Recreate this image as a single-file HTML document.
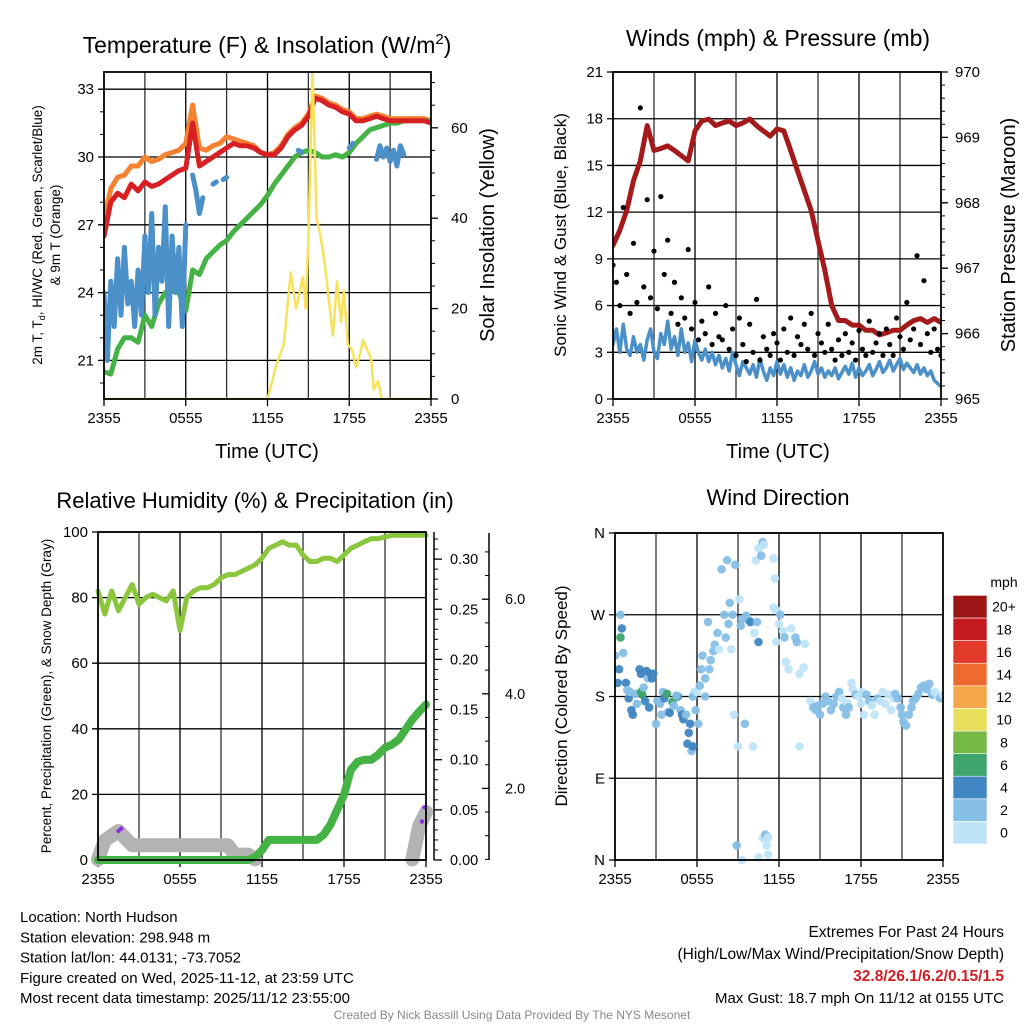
<!DOCTYPE html>
<html><head><meta charset="utf-8"><style>
html,body{margin:0;padding:0;background:#fff;}
svg{display:block;font-family:"Liberation Sans",Arial,sans-serif;}
</style></head><body>
<svg id="root" width="1024" height="1024" viewBox="0 0 1024 1024"></svg>
<script>
// ---------- DATA ----------
const xTickLabels = ["2355","0555","1155","1755","2355"];
const xTickHours = [0,6,12,18,24];
// Panel 1 (0.5 h steps)
const tHalf = [0,0.5,1,1.5,2,2.5,3,3.5,4,4.5,5,5.5,6,6.5,7,7.5,8,8.5,9,9.5,10,10.5,11,11.5,12,12.5,13,13.5,14,14.5,15,15.5,16,16.5,17,17.5,18,18.5,19,19.5,20,20.5,21,21.5,22,22.5,23,23.5,24];
const tempRed = [26.5,28.0,28.4,28.2,28.8,28.5,28.9,28.7,28.8,29.0,29.2,29.4,29.5,31.5,29.6,29.8,30.0,30.2,30.4,30.6,30.5,30.5,30.4,30.2,30.1,30.1,30.4,30.9,31.2,31.4,31.8,32.6,32.5,32.3,32.2,32.0,31.9,31.6,31.6,31.7,31.8,31.7,31.6,31.6,31.6,31.6,31.6,31.6,31.5];
const tempOrange = [27.2,28.6,29.1,29.2,29.6,29.6,30.0,29.8,29.9,30.1,30.2,30.3,30.6,32.3,30.4,30.3,30.5,30.6,30.9,30.8,30.7,30.6,30.5,30.2,30.1,30.2,30.5,31.0,31.3,31.5,31.9,32.7,32.6,32.4,32.3,32.1,32.0,31.7,31.7,31.8,31.9,31.8,31.7,31.7,31.7,31.7,31.7,31.7,31.6];
const dewGreen = [20.5,20.4,21.5,22.0,22.0,21.8,23.0,22.5,23.5,24.0,24.2,24.0,23.2,25.0,24.8,25.5,25.8,26.1,26.3,26.7,27.0,27.3,27.6,27.9,28.3,28.8,29.2,29.6,30.0,30.2,30.3,30.2,30.0,30.0,30.1,30.0,30.2,30.6,30.9,31.2,31.3,31.4,31.5,31.5,31.6,31.6,31.6,31.6,31.6];
// wind chill (0.25 h steps, null = missing)
const tQuarter = Array.from({length:97},(_,i)=>i*0.25);
const windChill = [
 24.0,21.0,24.5,22.5,25.5,23.0,26.0,23.5,24.5,22.5,25.0,23.0,26.5,24.0,27.5,23.0,26.0,24.5,27.8,22.5,26.5,24.0,26.0,22.5,27.0,
 null,29.2,28.5,27.5,28.2,null,null,28.8,28.9,null,29.0,29.1,
 null,null,null,null,null,null,null,null,null,null,null,null,null,null,null,null,null,null,null,null,
 30.3,30.2,null,
 null,null,null,null,null,null,null,null,null,null,null,null,
 30.4,30.6,
 null,null,null,null,null,null,
 29.9,30.5,30.0,30.4,29.8,30.3,29.6,30.5,30.1,
 null,null,null,null,null,null,null,null];
const tSolar = [0,12,12.7,13.2,13.7,14.1,14.6,14.8,15.0,15.3,15.6,15.9,16.2,16.5,16.8,17.1,17.4,17.6,17.9,18.2,18.5,18.8,19.0,19.3,19.6,19.8,20.1,20.4,24];
const solar = [0,0,8,12,28,20,27,20,35,73,40,36,30,22,14,26,17,24,12,11,7,10,13,11,9,2,4,0,0];
// Panel 2
const pressure = [967.35,967.58,967.88,968.34,968.64,969.18,968.80,968.83,968.87,968.80,968.72,968.64,969.10,969.25,969.28,969.18,969.22,969.25,969.18,969.22,969.28,969.18,969.10,969.02,969.13,969.10,968.80,968.49,968.19,967.88,967.42,966.97,966.43,966.20,966.20,966.13,966.13,966.05,966.05,965.98,966.01,966.05,966.05,966.13,966.20,966.23,966.17,966.23,966.17];
const windSpeed = [3.5,4.5,3.0,4.8,3.2,2.8,4.0,3.0,3.5,2.5,3.8,4.5,3.0,2.6,4.2,3.5,
 5.0,3.2,4.0,2.8,4.5,3.0,3.6,2.4,3.8,3.0,2.5,3.2,2.4,3.0,2.2,2.8,
 2.0,2.6,1.8,3.0,2.2,1.5,2.4,2.0,1.6,2.2,1.4,2.6,1.8,1.2,2.0,1.5,
 2.4,1.6,2.2,1.4,2.0,1.2,1.8,1.5,2.2,1.4,1.8,2.4,1.6,2.0,1.4,1.8,
 1.5,2.0,1.3,1.7,2.1,1.6,2.3,1.4,2.0,1.5,1.8,2.2,1.5,1.9,2.4,1.7,
 2.0,2.5,1.8,2.2,2.6,1.9,2.3,2.0,1.7,2.2,1.6,2.0,1.5,1.8,1.2,1.0,0.8];
const windGust = [8.6,7.5,6.0,12.3,8.0,5.5,10.0,6.2,18.7,7.2,12.8,6.5,9.5,5.8,13.0,8.0,
 10.2,5.5,7.5,4.8,6.5,5.2,9.6,4.5,6.2,3.8,5.0,4.2,7.2,3.5,5.5,4.0,
 3.8,6.0,3.2,4.5,2.8,5.2,3.5,2.4,4.8,3.0,6.4,2.5,4.0,3.2,2.8,4.2,
 3.6,2.5,4.5,3.0,5.2,2.8,4.0,3.5,4.8,3.2,5.5,2.8,4.2,3.6,3.0,4.8,
 3.2,2.5,3.8,2.8,4.2,3.0,3.6,2.5,4.4,3.2,2.8,5.0,3.0,3.6,4.2,2.8,
 4.5,3.5,2.8,5.2,4.0,3.2,6.2,3.8,4.5,9.2,3.5,7.6,4.2,3.0,4.5,3.2,2.8];
// Panel 3
const relHum = [82,75,82,76,80,84,78,80,81,80,79,82,70,80,82,83,83,84,86,87,87,88,89,90,92,95,96,97,96,96,93,91,91,92,92,91,93,95,96,97,98,98,98.5,99,99,99,99,99,99];
const precip = [0,0,0,0,0,0,0,0,0,0,0,0,0,0,0,0,0,0,0,0,0,0,0,0.003,0.01,0.02,0.02,0.02,0.02,0.02,0.02,0.02,0.02,0.025,0.035,0.05,0.065,0.09,0.098,0.10,0.10,0.105,0.112,0.115,0.12,0.13,0.14,0.148,0.155];
const snowDepth = [0.5,0.9,1.0,1.1,0.95,0.8,0.8,0.8,0.8,0.8,0.8,0.8,0.8,0.8,0.8,0.8,0.8,0.8,0.8,0.8,0.6,0.6,0.6,0.5,null,null,null,null,null,null,null,null,null,null,null,null,null,null,null,null,null,null,null,null,null,null,0.5,1.2,1.5];
// Panel 4
const dirTime = [0.0,0.2,0.3,0.4,0.5,0.4,0.6,0.8,0.9,1.0,1.2,1.1,1.3,1.5,1.6,1.8,1.9,1.9,2.0,2.1,2.2,2.3,2.4,2.5,2.6,2.7,2.8,3.0,3.1,3.3,3.4,3.5,3.6,3.8,3.9,4.0,4.2,4.3,4.6,4.5,4.8,4.9,5.0,5.2,5.3,5.4,5.5,5.6,5.7,5.8,5.9,5.7,6.0,6.1,6.2,6.3,6.4,6.6,6.6,6.8,6.9,7.0,7.2,7.3,7.5,7.6,7.8,8.0,8.1,8.2,8.3,8.4,8.5,8.6,8.7,8.8,8.9,9.0,9.1,9.2,9.3,9.3,9.5,9.6,9.8,9.9,10.1,10.2,10.4,10.5,10.3,10.5,10.8,10.9,10.7,10.5,10.8,11.0,11.2,11.1,11.2,11.6,11.7,11.6,11.8,12.0,11.8,12.1,12.3,12.4,12.5,12.7,12.9,13.2,13.3,13.5,13.5,13.8,13.9,
 14.3,14.5,14.7,14.8,15.0,15.2,15.4,15.6,15.8,16.0,16.2,16.4,16.6,16.7,16.9,17.0,17.1,17.3,17.4,17.6,17.8,18.0,18.1,18.2,18.4,18.6,18.8,19.0,19.2,19.4,19.6,19.8,20.0,20.2,20.4,20.5,20.7,20.9,21.0,21.1,21.3,21.5,21.7,21.8,22.0,22.2,22.4,22.6,22.8,23.0,23.2,23.4,23.6,23.8,24.0];
const dirDeg = [225,195,210,270,255,245,228,195,187,178,165,185,160,183,172,210,205,185,182,190,175,208,200,168,205,200,205,150,175,172,160,185,178,183,163,162,174,170,180,181,165,160,155,160,128,140,150,120,125,185,165,180,185,150,192,210,225,180,200,262,210,220,230,237,250,232,320,270,245,330,260,283,232,270,160,325,16,125,287,258,265,0,150,269,264,262,125,250,262,240,330,343,350,347,335,3,24,28,25,16,6,332,310,278,275,260,240,270,252,245,218,210,255,245,240,205,125,212,238,
 175,168,165,170,160,172,180,175,165,172,180,185,178,168,160,173,168,195,188,182,180,172,185,160,182,175,170,160,178,175,185,172,182,165,178,183,178,168,160,152,148,160,168,175,178,183,190,192,188,194,182,185,180,178,182];
const dirSpeed = [3,4.5,4.5,3,4.5,6.5,3,4.5,3,4.5,4.5,3,4.5,3,3,4.5,4.5,6.5,6.5,3,4.5,4.5,3,4.5,4.5,4.5,4.5,3,3,3,3,3,4.5,6.5,3,4.5,6.5,3,4.5,3,3,4.5,4.5,3,4.5,4.5,4.5,3,4.5,1.5,3,3,1.5,3,3,3,3,3,3,3,3,3,3,3,3,1.5,3,3,3,3,3,3,1.5,3,1.5,3,3,1.5,1.5,3,3,1.5,3,3,3,4.5,1.5,1.5,3,4.5,1.5,1.5,3,1.5,3,1.5,1.5,3,1.5,1.5,1.5,1.5,1.5,1.5,1.5,1.5,1.5,3,1.5,3,1.5,1.5,1.5,3,3,1.5,1.5,1.5,1.5,
 1.5,3,3,3,3,3,3,3,3,3,3,3,1.5,3,3,1.5,3,1.5,1.5,3,1.5,1.5,1.5,1.5,3,3,1.5,1.5,3,1.5,1.5,1.5,1.5,1.5,1.5,3,3,3,3,3,3,3,3,3,3,3,3,3,3,3,3,1.5,1.5,3,1.5];
const cbLabels = ["0","2","4","6","8","10","12","14","16","18","20+"];
const cbColors = ["#bfe4f7","#86bfe6","#3f86c2","#3fa46c","#74b944","#e7df5a","#f6a646","#ee6a2e","#e03b2a","#c51b20","#9b1515"];

// ---------- HELPERS ----------
const NS="http://www.w3.org/2000/svg";
const root=document.getElementById('root');
function mk(tag,at,parent){const e=document.createElementNS(NS,tag);for(const k in at)e.setAttribute(k,at[k]);(parent||root).appendChild(e);return e;}
function txt(s,at,parent){const e=mk('text',at,parent);e.textContent=s;return e;}
function linePath(xs,vals,fy){let d="",pen=false;for(let i=0;i<xs.length;i++){if(vals[i]==null){pen=false;continue;}const y=fy(vals[i]);d+=(pen?"L":"M")+xs[i].toFixed(1)+" "+y.toFixed(1);pen=true;}return d;}
function makeX(x0,x1){return t=>x0+t/24*(x1-x0);}

function frame(g,x0,x1,y0,y1,yTicks,yFn,labels){
  for(let h=3;h<24;h+=3){const xx=makeX(x0,x1)(h);
    const l=mk('line',{x1:xx,x2:xx,y1:y0,y2:y1,stroke:(h%6==0?'#000':'#333'),'stroke-width':1.3},g);
    
    }
  yTicks.forEach((v,i)=>{const yy=yFn(v);
    const l=mk('line',{x1:x0-6,x2:x1,y1:yy,y2:yy,stroke:'#000','stroke-width':1.3},g);
    
    
    const t=txt(labels[i],{x:x0-10,y:yy+5,'text-anchor':'end','font-size':15},g);
    
    });
  xTickHours.forEach((h,i)=>{const xx=makeX(x0,x1)(h);
    const l=mk('line',{x1:xx,x2:xx,y1:y1,y2:y1+7,stroke:'#000','stroke-width':1.3},g);
    
    
    const t=txt(xTickLabels[i],{x:xx,y:y1+24,'text-anchor':'middle','font-size':15},g);
    
    });
}
function box(g,x0,x1,y0,y1){const r=mk('rect',{x:x0,y:y0,width:x1-x0,height:y1-y0,fill:'none',stroke:'#000','stroke-width':1.8},g);
  
  }
function series(g,d,color,w,name){const p=mk('path',{d:d,fill:'none',stroke:color,'stroke-width':w,'stroke-linejoin':'round','stroke-linecap':'round'},g);
  
  return p;}

// ---------- PANEL 1 ----------
(function(){
 const g=mk('g',{});
 const x0=104,x1=431,y0=72,y1=399;const X=makeX(x0,x1);
 const Y=v=>157-(v-30)*22.6;const YS=v=>399-v*4.52;
 frame(g,x0,x1,y0,y1,[21,24,27,30,33],Y,["21","24","27","30","33"]);
 for(let v=20;v<=33;v++){const yy=Y(v);const l=mk('line',{x1:x0-4,x2:x0,y1:yy,y2:yy,stroke:'#000'},g);}
 [0,20,40,60].forEach(v=>{const yy=YS(v);const l=mk('line',{x1:x1,x2:x1+7,y1:yy,y2:yy,stroke:'#000','stroke-width':1.3},g);
   const t=txt(String(v),{x:x1+20,y:yy+5,'font-size':15},g);});
 for(let v=5;v<=70;v+=5){if(v%20==0)continue;const yy=YS(v);const l=mk('line',{x1:x1,x2:x1+4,y1:yy,y2:yy,stroke:'#000'},g);}
 const cl=mk('clipPath',{id:'c1'},g);mk('rect',{x:x0,y:y0,width:x1-x0,height:y1-y0},cl);
 const s=mk('g',{'clip-path':'url(#c1)'},g);
 series(s,linePath(tHalf.map(X),tempOrange,Y),'#f58231',5,'temp-9m-orange-line');
 series(s,linePath(tHalf.map(X),dewGreen,Y),'#44b244',5,'dewpoint-green-line');
 series(s,linePath(tQuarter.map(X),windChill,Y),'#4b90c8',5,'windchill-blue-line');
 series(s,linePath(tHalf.map(X),tempRed,Y),'#d62024',5,'temp-2m-red-line');
 series(s,linePath(tSolar.map(X),solar,YS),'#f8e25a',2.5,'solar-insolation-line');
 box(g,x0,x1,y0,y1);
 let t=txt('',{x:267,y:53,'text-anchor':'middle','font-size':23},g);t.innerHTML='Temperature (F) &amp; Insolation (W/m<tspan dy="-9" font-size="15">2</tspan><tspan dy="9">)</tspan>';
 
 t=txt('Time (UTC)',{x:267,y:458,'text-anchor':'middle','font-size':20},g);
 t=txt('',{transform:'translate(42,235) rotate(-90)','text-anchor':'middle','font-size':13.5},g);
 t.innerHTML='2m T, T<tspan dy="3" font-size="9">d</tspan><tspan dy="-3">, HI/WC (Red, Green, Scarlet/Blue)</tspan>';
 
 t=txt('& 9m T (Orange)',{transform:'translate(60,235) rotate(-90)','text-anchor':'middle','font-size':13.5},g);
 t=txt('Solar Insolation (Yellow)',{transform:'translate(494,235) rotate(-90)','text-anchor':'middle','font-size':20},g);
})();

// ---------- PANEL 2 ----------
(function(){
 const g=mk('g',{});
 const x0=613,x1=941,y0=72,y1=399;const X=makeX(x0,x1);
 const Y=v=>399-v*15.57;const YP=p=>399-(p-965)*65.4;
 frame(g,x0,x1,y0,y1,[0,3,6,9,12,15,18,21],Y,["0","3","6","9","12","15","18","21"]);
 [965,966,967,968,969,970].forEach(p=>{const yy=YP(p);const l=mk('line',{x1:x1,x2:x1+7,y1:yy,y2:yy,stroke:'#000','stroke-width':1.3},g);
  const t=txt(String(p),{x:x1+14,y:yy+5,'font-size':15},g);});
 for(let p=965.2;p<970;p+=0.2){const yy=YP(p);const l=mk('line',{x1:x1,x2:x1+4,y1:yy,y2:yy,stroke:'#000'},g);}
 const cl=mk('clipPath',{id:'c2'},g);mk('rect',{x:x0,y:y0,width:x1-x0,height:y1-y0},cl);
 const s=mk('g',{'clip-path':'url(#c2)'},g);
 series(s,linePath(tQuarter.map(X),windSpeed,Y),'#4b90c8',3.5,'sonic-wind-line');
 series(s,linePath(tHalf.map(X),pressure,YP),'#a41a1a',5,'pressure-line');
 windGust.forEach((v,i)=>{const c=mk('circle',{cx:X(tQuarter[i]),cy:Y(v),r:2.6,fill:'#000'},s);
   
   });
 box(g,x0,x1,y0,y1);
 let t=txt('Winds (mph) & Pressure (mb)',{x:778,y:46,'text-anchor':'middle','font-size':23},g);
 t=txt('Time (UTC)',{x:778,y:458,'text-anchor':'middle','font-size':20},g);
 t=txt('Sonic Wind & Gust (Blue, Black)',{transform:'translate(566,235) rotate(-90)','text-anchor':'middle','font-size':17},g);
 t=txt('Station Pressure (Maroon)',{transform:'translate(1015,235) rotate(-90)','text-anchor':'middle','font-size':20},g);
})();

// ---------- PANEL 3 ----------
(function(){
 const g=mk('g',{});
 const x0=98,x1=426,y0=532,y1=860;const X=makeX(x0,x1);
 const Y=v=>860-v*3.28;const YP=v=>860-v*1003;const YS=v=>883-v*47.3;
 frame(g,x0,x1,y0,y1,[0,20,40,60,80,100],Y,["0","20","40","60","80","100"]);
 let l=mk('line',{x1:x1+8,x2:x1+8,y1:y0,y2:y1,stroke:'#000','stroke-width':1.5},g);
 ["0.00","0.05","0.10","0.15","0.20","0.25","0.30"].forEach((s,i)=>{const yy=YP(i*0.05);const m=mk('line',{x1:x1+8,x2:x1+16,y1:yy,y2:yy,stroke:'#000','stroke-width':1.3},g);
  const t=txt(s,{x:x1+24,y:yy+5,'font-size':14.5},g);});
 for(let v=0.01;v<0.325;v+=0.01){const yy=YP(v);const m=mk('line',{x1:x1+8,x2:x1+12,y1:yy,y2:yy,stroke:'#000'},g);}
 l=mk('line',{x1:489,x2:489,y1:y0+1,y2:y1,stroke:'#000','stroke-width':1.5},g);
 ["2.0","4.0","6.0"].forEach((s,i)=>{const yy=YS((i+1)*2);const m=mk('line',{x1:482,x2:489,y1:yy,y2:yy,stroke:'#000','stroke-width':1.3},g);
  const t=txt(s,{x:505,y:yy+5,'font-size':14.5},g);});
 for(let v=0.5;v<=7;v+=0.5){const yy=YS(v);if(yy<y0||yy>y1||v%2==0)continue;const m=mk('line',{x1:485,x2:489,y1:yy,y2:yy,stroke:'#000'},g);}
 const cl=mk('clipPath',{id:'c3'},g);mk('rect',{x:x0-8,y:y0,width:x1-x0+16,height:y1-y0+8},cl);
 const s=mk('g',{'clip-path':'url(#c3)'},g);
 series(s,linePath(tHalf.map(X),snowDepth,YS),'#b3b3b3',14,'snow-depth-line');
 [[1.5,1.1],[1.7,1.15],[23.7,1.3],[23.9,1.6]].forEach(p=>{const c=mk('circle',{cx:X(p[0]),cy:YS(p[1]),r:2.2,fill:'#8a2be2'},s);});
 series(s,linePath(tHalf.map(X),precip,YP),'#44b244',8,'precipitation-line');
 series(s,linePath(tHalf.map(X),relHum,Y),'#8cc63f',5,'relative-humidity-line');
 box(g,x0,x1,y0,y1);
 let t=txt('Relative Humidity (%) & Precipitation (in)',{x:255,y:508,'text-anchor':'middle','font-size':22},g);
 t=txt('Percent, Precipitation (Green), & Snow Depth (Gray)',{transform:'translate(51,696) rotate(-90)','text-anchor':'middle','font-size':13.5},g);
})();

// ---------- PANEL 4 ----------
(function(){
 const g=mk('g',{});
 const x0=615,x1=943,y0=533,y1=860;const X=makeX(x0,x1);
 const Y=d=>860-d/360*327;
 frame(g,x0,x1,y0,y1,[0,90,180,270,360],Y,["N","E","S","W","N"]);
 const cl=mk('clipPath',{id:'c4'},g);mk('rect',{x:x0,y:y0-6,width:x1-x0,height:y1-y0+12},cl);
 const s=mk('g',{'clip-path':'url(#c4)'},g);
 dirDeg.forEach((d,i)=>{const bin=Math.min(10,Math.floor(dirSpeed[i]/2));
   const c=mk('circle',{cx:X(dirTime[i]),cy:Y(d),r:4.3,fill:cbColors[bin],'fill-opacity':0.95},s);
   
   });
 box(g,x0,x1,y0,y1);
 let t=txt('Wind Direction',{x:778,y:505,'text-anchor':'middle','font-size':22},g);
 t=txt('Direction (Colored By Speed)',{transform:'translate(567,696) rotate(-90)','text-anchor':'middle','font-size':17},g);
 const cb=mk('g',{},g);
 const h=22.6;
 cbColors.forEach((c,i)=>{const yy=844-(i+1)*h;const r=mk('rect',{x:953,y:yy,width:34,height:h,fill:c,stroke:'#fff','stroke-width':0.6},cb);
   
   
   const tt=txt(cbLabels[i],{x:1004,y:yy+h/2+5,'text-anchor':'middle','font-size':14},cb);
   
   });
 t=txt('mph',{x:1004,y:587,'text-anchor':'middle','font-size':14},cb);
})();

// ---------- FOOTER ----------
(function(){
 const g=mk('g',{});
 const left=["Location: North Hudson","Station elevation: 298.948 m","Station lat/lon: 44.0131; -73.7052","Figure created on Wed, 2025-11-12, at 23:59 UTC","Most recent data timestamp: 2025/11/12 23:55:00"];
 left.forEach((s,i)=>{const t=txt(s,{x:20,y:922+i*20.3,'font-size':15},g);});
 let t=txt('Extremes For Past 24 Hours',{x:1004,y:937,'text-anchor':'end','font-size':15.5},g);
 t=txt('(High/Low/Max Wind/Precipitation/Snow Depth)',{x:1004,y:959,'text-anchor':'end','font-size':15.5},g);
 t=txt('32.8/26.1/6.2/0.15/1.5',{x:1004,y:981,'text-anchor':'end','font-size':15.5,'font-weight':'bold',fill:'#d11f26'},g);
 t=txt('Max Gust: 18.7 mph On 11/12 at 0155 UTC',{x:1004,y:1003,'text-anchor':'end','font-size':15},g);
 t=txt('Created By Nick Bassill Using Data Provided By The NYS Mesonet',{x:512,y:1019,'text-anchor':'middle','font-size':12,fill:'#888'},g);
})();
</script>
</body></html>
